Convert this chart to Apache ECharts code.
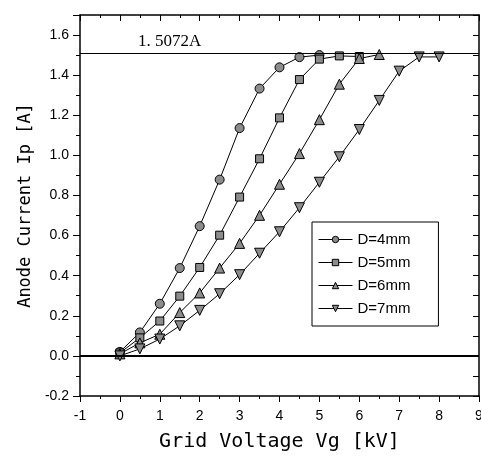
<!DOCTYPE html>
<html>
<head>
<meta charset="utf-8">
<script src="https://cdn.jsdelivr.net/npm/echarts@6/dist/echarts.min.js"></script>
<style>
  html, body { margin: 0; padding: 0; background: #fff; }
  #chart { width: 481px; height: 458px; }
</style>
</head>
<body>
<div id="chart"></div>
<script>
// grid voltage steps [kV]
const vg = [0, 0.5, 1, 1.5, 2, 2.5, 3, 3.5, 4, 4.5, 5, 5.5, 6, 6.5, 7, 7.5, 8];

// anode current [A]
const d4 = [0.02, 0.117, 0.26, 0.438, 0.647, 0.879, 1.136, 1.333, 1.439, 1.49, 1.5];
const d5 = [0.015, 0.09, 0.174, 0.298, 0.441, 0.602, 0.792, 0.983, 1.187, 1.378, 1.48, 1.496, 1.493];
const d6 = [0.01, 0.065, 0.108, 0.216, 0.314, 0.438, 0.561, 0.701, 0.856, 1.009, 1.178, 1.355, 1.483, 1.503];
const d7 = [0.0, 0.035, 0.084, 0.15, 0.227, 0.31, 0.405, 0.512, 0.619, 0.739, 0.866, 0.993, 1.129, 1.274, 1.42, 1.491, 1.491];

const names = ['D=4mm', 'D=5mm', 'D=6mm', 'D=7mm'];
const saturation = 1.5072;

const pairs = arr => arr.map((v, i) => [vg[i], v]);

const chart = echarts.init(document.getElementById('chart'));

const tickFont = { color: '#000', fontFamily: 'Liberation Sans', fontSize: 14 };
const axisLine = { show: true, onZero: false, lineStyle: { color: '#000', width: 1.5 } };
const markerStyle = { color: '#8c8c8c', borderColor: '#000', borderWidth: 1 };

function serie(name, data, symbol, size, rotate) {
  return {
    name: name,
    type: 'line',
    data: pairs(data),
    symbol: symbol,
    symbolSize: size,
    symbolRotate: rotate || 0,
    showAllSymbol: true,
    lineStyle: { color: '#000', width: 1 },
    itemStyle: markerStyle,
    z: 3
  };
}

const series = [
  serie(names[0], d4, 'circle', 9),
  serie(names[1], d5, 'rect', 8),
  serie(names[2], d6, 'triangle', 10),
  serie(names[3], d7, 'triangle', 10, 180)
];

// horizontal reference lines: zero and saturation current
series[0].markLine = {
  silent: true,
  symbol: 'none',
  animation: false,
  data: [
    { yAxis: 0, lineStyle: { color: '#000', width: 2, type: 'solid' }, label: { show: false } },
    {
      yAxis: saturation,
      lineStyle: { color: '#000', width: 1, type: 'solid' },
      label: {
        show: true,
        position: 'insideStartTop',
        distance: [58, 3],
        formatter: '1. 5072A',
        color: '#000',
        fontFamily: 'Liberation Serif',
        fontSize: 17
      }
    }
  ]
};

chart.setOption({
  animation: false,
  backgroundColor: '#fff',
  grid: { left: 80, right: 2, top: 15, bottom: 62, outerBoundsMode: 'none', containLabel: false },
  legend: {
    orient: 'vertical',
    left: 312,
    top: 222,
    data: names,
    itemWidth: 34,
    itemHeight: 8,
    itemGap: 6,
    padding: [9, 28, 9, 6],
    borderColor: '#000',
    borderWidth: 1,
    backgroundColor: '#fff',
    itemStyle: markerStyle,
    lineStyle: { color: '#000', width: 1 },
    textStyle: { color: '#000', fontFamily: 'Liberation Sans', fontSize: 15, lineHeight: 17 }
  },
  xAxis: [
    {
      type: 'value',
      min: -1, max: 9, interval: 1,
      position: 'bottom',
      name: 'Grid Voltage Vg [kV]',
      nameLocation: 'middle',
      nameGap: 36,
      nameTextStyle: { color: '#000', fontFamily: 'DejaVu Sans Mono', fontSize: 20 },
      axisLine: axisLine,
      axisTick: { show: true, inside: false, length: 6, lineStyle: { color: '#000' } },
      minorTick: { show: true, splitNumber: 2, length: 3, lineStyle: { color: '#000' } },
      axisLabel: Object.assign({ margin: 13 }, tickFont),
      splitLine: { show: false }
    },
    {
      type: 'value',
      min: -1, max: 9, interval: 1,
      position: 'top',
      axisLine: axisLine,
      axisTick: { show: true, inside: true, length: 6, lineStyle: { color: '#000' } },
      minorTick: { show: true, splitNumber: 2, length: 3, lineStyle: { color: '#000' } },
      axisLabel: { show: false },
      splitLine: { show: false }
    }
  ],
  yAxis: [
    {
      type: 'value',
      min: -0.2, max: 1.7, interval: 0.2,
      position: 'left',
      name: 'Anode Current Ip [A]',
      nameLocation: 'middle',
      nameGap: 46,
      nameRotate: 90,
      nameTextStyle: { color: '#000', fontFamily: 'DejaVu Sans Mono', fontSize: 17 },
      axisLine: axisLine,
      axisTick: { show: true, inside: false, length: 7, lineStyle: { color: '#000' } },
      minorTick: { show: true, splitNumber: 2, length: 4, lineStyle: { color: '#000' } },
      axisLabel: Object.assign({
        margin: 11,
        showMaxLabel: false,
        formatter: v => v.toFixed(1)
      }, tickFont),
      splitLine: { show: false }
    },
    {
      type: 'value',
      min: -0.2, max: 1.7, interval: 0.2,
      position: 'right',
      axisLine: axisLine,
      axisTick: { show: true, inside: true, length: 6, lineStyle: { color: '#000' } },
      minorTick: { show: true, splitNumber: 2, length: 6, lineStyle: { color: '#000' } },
      axisLabel: { show: false },
      splitLine: { show: false }
    }
  ],
  series: series
});
</script>
</body>
</html>
